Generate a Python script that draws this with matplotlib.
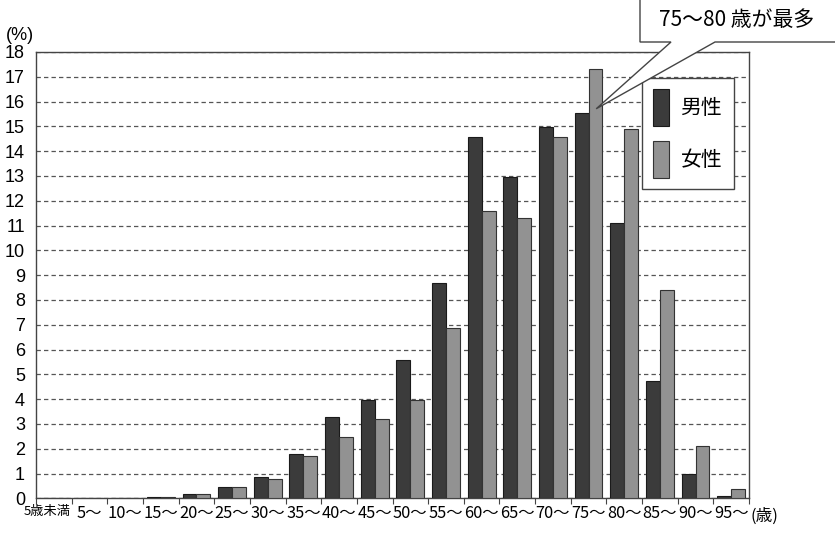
import matplotlib
matplotlib.use("Agg")
import matplotlib.pyplot as plt
import matplotlib.transforms as mtransforms
import numpy as np

# age groups and share of each group (%)
ages = ["5歳未満", "5〜", "10〜", "15〜", "20〜", "25〜", "30〜", "35〜", "40〜", "45〜",
        "50〜", "55〜", "60〜", "65〜", "70〜", "75〜", "80〜", "85〜", "90〜", "95〜"]
male = [0, 0, 0, 0.07, 0.16, 0.47, 0.85, 1.79, 3.29, 3.96,
        5.58, 8.7, 14.58, 12.96, 14.96, 15.52, 11.09, 4.73, 0.98, 0.08]
female = [0, 0, 0, 0.07, 0.16, 0.47, 0.77, 1.72, 2.49, 3.18,
          3.98, 6.85, 11.58, 11.31, 14.58, 17.31, 14.89, 8.42, 2.11, 0.37]
series_names = ["男性", "女性"]
callout_text = "75〜80 歳が最多"
peak_index = 15

W, H = 835, 540
y_font = ["Liberation Sans", "DejaVu Sans"]
jp_font = ["Noto Sans CJK JP", "DejaVu Sans"]

fig = plt.figure(figsize=(W / 100, H / 100), dpi=100)
ax = fig.add_axes([36 / W, 1 - 498.3 / H, (749 - 36) / W, (498.3 - 52) / H])

x = np.arange(len(ages)) + 0.5
w = 0.39
bm = ax.bar(x - w / 2, male, w, color="#3b3b3b", edgecolor="#1a1a1a", linewidth=0.8,
            label=series_names[0], zorder=3)
bf = ax.bar(x + w / 2, female, w, color="#929292", edgecolor="#333333", linewidth=0.8,
            label=series_names[1], zorder=3)

ax.set_xlim(0, len(ages))
ax.set_ylim(0, 18)
ax.set_yticks(np.arange(0, 19))
ax.set_yticklabels([str(v) for v in range(19)], family=y_font, fontsize=13)
ax.tick_params(axis="y", length=0, pad=8)
ax.yaxis.grid(True, linestyle=(0, (3.5, 2.5)), color="#555555", linewidth=0.9)
ax.set_axisbelow(True)

ax.set_xticks(np.arange(len(ages) + 1))
ax.set_xticklabels([])
ax.tick_params(axis="x", which="major", length=4, direction="out", color="#444444")
ax.set_xticks(x, minor=True)
ax.set_xticklabels(ages, minor=True, family=jp_font, fontsize=11.8)
ax.tick_params(axis="x", which="minor", length=0, pad=5)
first = ax.get_xticklabels(minor=True)[0]
first.set_fontsize(9.5)
first.set_transform(first.get_transform() +
                    mtransforms.ScaledTranslation(-7 / 100, 0, fig.dpi_scale_trans))

for s in ax.spines.values():
    s.set_color("#444444")
    s.set_linewidth(1.0)

fig.text(751 / W, 1 - 516 / H, "(歳)", family=jp_font, fontsize=12, va="center", ha="left")
fig.text(6 / W, 1 - 36 / H, "(%)", family=y_font, fontsize=13, va="center", ha="left")

leg = ax.legend(handles=[bm, bf], loc="upper left",
                bbox_to_anchor=(642 / W, 1 - 78 / H), bbox_transform=fig.transFigure,
                borderaxespad=0,
                prop={"family": jp_font, "size": 15}, handlelength=0.75, handleheight=2.3,
                handletextpad=0.55, labelspacing=0.75, borderpad=0.55,
                fancybox=False, framealpha=1, edgecolor="#444444")
leg.get_frame().set_linewidth(1.0)
leg.set_zorder(5)

# callout box with pointer to the female peak bar
tip_disp = ax.transData.transform((x[peak_index] + w * 0.55, female[peak_index] - 1.6))
tip = fig.transFigure.inverted().transform(tip_disp)
pts = [(640, -2), (640, 42), (671, 42), None, (715, 42), (840, 42), (840, -2)]
verts = []
for p in pts:
    if p is None:
        verts.append(tuple(tip))
    else:
        verts.append((p[0] / W, 1 - p[1] / H))
poly = plt.Polygon(verts, closed=True, transform=fig.transFigure, facecolor="white",
                   edgecolor="#444444", linewidth=1.0, zorder=10, clip_on=False)
fig.patches.append(poly)
fig.text(737 / W, 1 - 20 / H, callout_text, family=jp_font, fontsize=15,
         ha="center", va="center", zorder=11)

fig.savefig("out.png", dpi=100, facecolor="white")
